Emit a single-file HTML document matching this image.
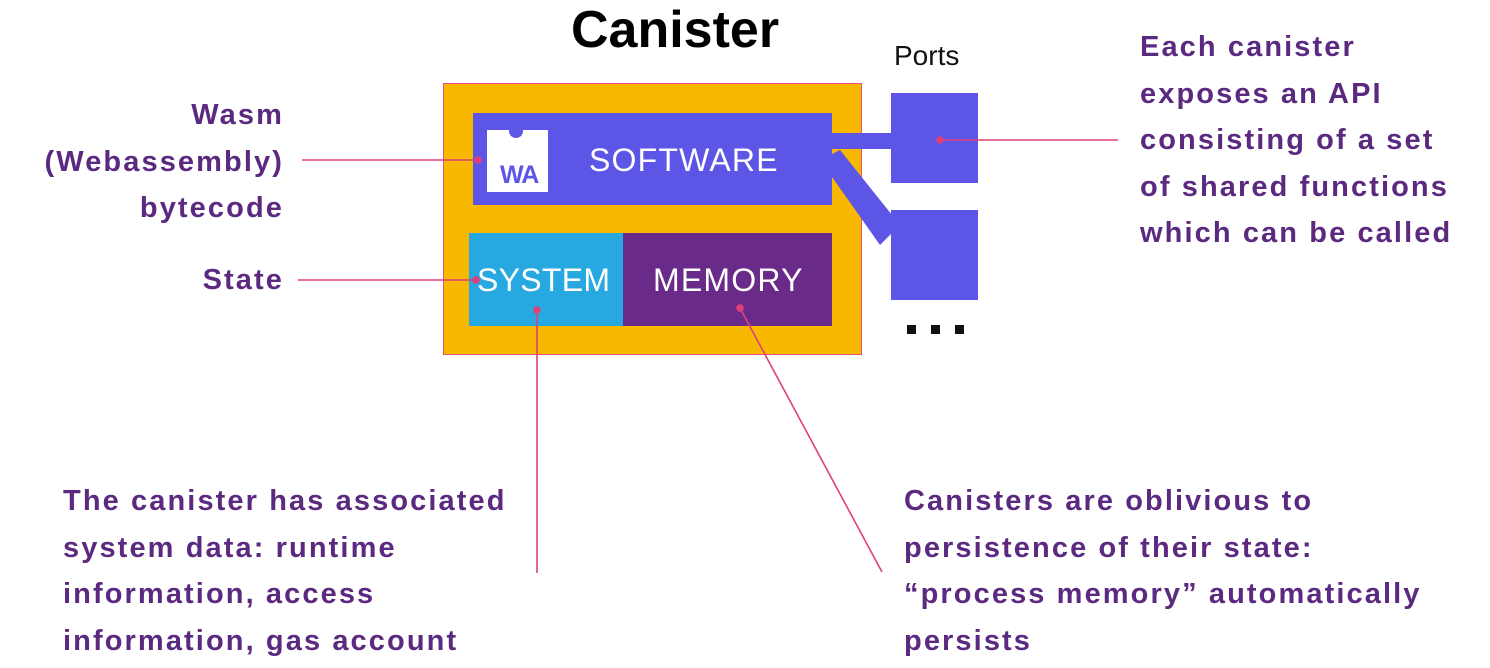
<!DOCTYPE html>
<html><head><meta charset="utf-8"><style>
body{margin:0;width:1490px;height:668px;background:#fff;position:relative;overflow:hidden;font-family:"Liberation Sans",sans-serif}
.t{position:absolute;color:#5b2a80;font-size:29px;font-weight:bold;line-height:46.5px;letter-spacing:2.1px;white-space:nowrap}
.r{text-align:right}
.w{position:absolute;color:#fff;font-size:32px;letter-spacing:1.2px}
</style></head><body>
<div style="position:absolute;left:571px;top:0px;font-size:52px;font-weight:bold;color:#000">Canister</div>
<div style="position:absolute;left:894px;top:40px;font-size:28px;color:#111">Ports</div>
<div style="position:absolute;left:443px;top:83px;width:417px;height:270px;background:#f8b800;border:1px solid #e8507a"></div>
<svg style="position:absolute;left:0;top:0" width="1490" height="668">
<polygon points="820,160 840,150 900,225 880,245" fill="#5d55e5"/>
<rect x="820" y="133" width="80" height="16" fill="#5d55e5"/>
</svg>
<div style="position:absolute;left:473px;top:113px;width:359px;height:92px;background:#5d55e5"></div>
<div style="position:absolute;left:487px;top:130px;width:61px;height:62px;background:#fff"></div>
<div style="position:absolute;left:509px;top:124px;width:14px;height:14px;border-radius:50%;background:#5d55e5"></div>
<div style="position:absolute;left:500px;top:161px;font-size:25px;font-weight:bold;color:#5d55e5;letter-spacing:-1px">WA</div>
<div class="w" style="left:589px;top:142px">SOFTWARE</div>
<div style="position:absolute;left:469px;top:233px;width:154px;height:93px;background:#27a8e0"></div>
<div style="position:absolute;left:623px;top:233px;width:209px;height:93px;background:#6a2a8a"></div>
<div class="w" style="left:477px;top:262px;letter-spacing:0.3px">SYSTEM</div>
<div class="w" style="left:653px;top:262px">MEMORY</div>
<div style="position:absolute;left:891px;top:93px;width:87px;height:90px;background:#5d55e5"></div>
<div style="position:absolute;left:891px;top:210px;width:87px;height:90px;background:#5d55e5"></div>
<div style="position:absolute;left:907px;top:325px;width:9px;height:9px;background:#111"></div>
<div style="position:absolute;left:931px;top:325px;width:9px;height:9px;background:#111"></div>
<div style="position:absolute;left:955px;top:325px;width:9px;height:9px;background:#111"></div>
<svg style="position:absolute;left:0;top:0" width="1490" height="668" stroke="#e0407a" stroke-width="1.6" fill="#e0407a">
<line x1="302" y1="160" x2="478" y2="160"/><circle cx="478" cy="160" r="3"/>
<line x1="298" y1="280" x2="476" y2="280"/><circle cx="476" cy="280" r="3"/>
<line x1="537" y1="310" x2="537" y2="573"/><circle cx="537" cy="310" r="3"/>
<line x1="740" y1="308" x2="882" y2="572"/><circle cx="740" cy="308" r="3"/>
<line x1="940" y1="140" x2="1118" y2="140"/><circle cx="940" cy="140" r="3"/>
</svg>
<div class="t r" style="left:0px;top:92px;width:284px">Wasm<br>(Webassembly)<br>bytecode</div>
<div class="t r" style="left:0px;top:257px;width:284px">State</div>
<div class="t" style="left:1140px;top:24px">Each canister<br>exposes an API<br>consisting of a set<br>of shared functions<br>which can be called</div>
<div class="t" style="left:63px;top:478px">The canister has associated<br>system data: runtime<br>information, access<br>information, gas account</div>
<div class="t" style="left:904px;top:478px">Canisters are oblivious to<br>persistence of their state:<br>“process memory” automatically<br>persists</div>
</body></html>
